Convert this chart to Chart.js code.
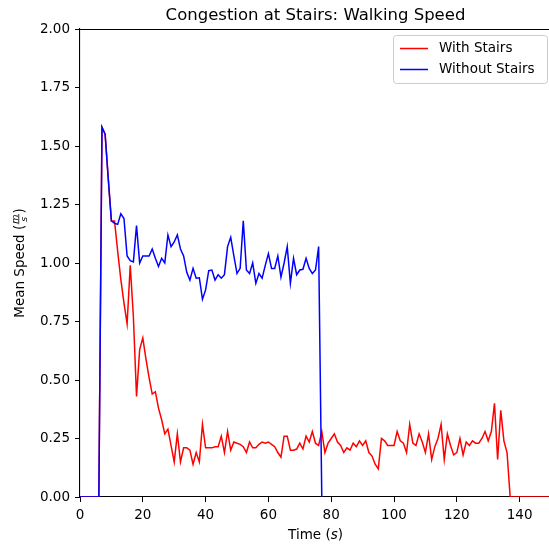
<!DOCTYPE html>
<html lang="en">
<head>
  <meta charset="UTF-8" />
  <title>Congestion at Stairs: Walking Speed</title>
  <script src="https://cdn.jsdelivr.net/npm/chart.js"></script>
  <style>
    html, body { margin: 0; padding: 0; background: #fff; overflow: hidden; }
    #wrap { position: relative; width: 551px; height: 548px; }
  </style>
</head>
<body>
  <div id="wrap"><canvas id="speedChart"></canvas></div>

  <script>
    // mean walking speed per second of simulation time (m/s)
    const withStairs = [
      0, 0, 0, 0, 0, 0, 0, 1.58, 1.55, 1.36,
      1.18, 1.18, 1.05, 0.93, 0.83, 0.74, 0.99, 0.77, 0.43, 0.63,
      0.68, 0.59, 0.51, 0.44, 0.45, 0.38, 0.33, 0.27, 0.29, 0.22,
      0.15, 0.27, 0.15, 0.21, 0.21, 0.20, 0.14, 0.19, 0.15, 0.31,
      0.21, 0.21, 0.21, 0.215, 0.215, 0.26, 0.19, 0.28, 0.20, 0.235,
      0.23, 0.225, 0.215, 0.19, 0.235, 0.21, 0.21, 0.225, 0.235, 0.23,
      0.235, 0.225, 0.215, 0.19, 0.17, 0.26, 0.26, 0.20, 0.20, 0.205,
      0.23, 0.205, 0.26, 0.235, 0.28, 0.23, 0.22, 0.28, 0.19, 0.23,
      0.25, 0.27, 0.235, 0.22, 0.19, 0.21, 0.20, 0.23, 0.215, 0.24,
      0.22, 0.24, 0.19, 0.175, 0.14, 0.12, 0.25, 0.24, 0.22, 0.22,
      0.22, 0.28, 0.24, 0.23, 0.19, 0.31, 0.23, 0.22, 0.27, 0.235,
      0.19, 0.27, 0.16, 0.215, 0.25, 0.31, 0.16, 0.27, 0.22, 0.18,
      0.19, 0.25, 0.18, 0.235, 0.22, 0.24, 0.23, 0.23, 0.25, 0.28,
      0.24, 0.28, 0.40, 0.16, 0.37, 0.24, 0.19, 0, 0, 0,
      0, 0, 0, 0, 0, 0, 0, 0, 0, 0,
      0
    ];
    const withoutStairs = [
      0, 0, 0, 0, 0, 0, 0, 1.58, 1.55, 1.36,
      1.18, 1.17, 1.165, 1.21, 1.19, 1.03, 1.01, 1.005, 1.16, 1.0,
      1.03, 1.03, 1.03, 1.06, 1.02, 0.985, 1.02, 1.0, 1.12, 1.07,
      1.09, 1.12, 1.06, 1.03, 0.96, 0.927, 0.977, 0.935, 0.937, 0.845,
      0.885, 0.967, 0.97, 0.927, 0.95, 0.935, 0.95, 1.07, 1.11, 1.03,
      0.955, 0.977, 1.18, 0.97, 0.955, 1.0, 0.913, 0.955, 0.935, 0.99,
      1.04, 0.977, 0.977, 1.03, 0.94, 1.0, 1.07, 0.913, 1.02, 0.95,
      0.97, 0.973, 1.02, 0.977, 0.955, 0.97, 1.07, 0
    ];
    const xTicks = [0, 20, 40, 60, 80, 100, 120, 140];
    const yTicks = [0, 0.25, 0.5, 0.75, 1.0, 1.25, 1.5, 1.75, 2.0];
    const seriesNames = ['With Stairs', 'Without Stairs'];
    const seriesColors = ['#ff0000', '#0000ff'];

    const FONT = '"DejaVu Sans", sans-serif';

    // one sample per second
    const toPoints = arr => arr.map((v, i) => ({ x: i, y: v }));

    // draws a run of [text, font] pieces starting at x
    function drawRun(ctx, parts, x, y) {
      parts.forEach(([txt, font]) => {
        ctx.font = font;
        ctx.fillText(txt, x, y);
        x += ctx.measureText(txt).width;
      });
    }
    function runWidth(ctx, parts) {
      return parts.reduce((w, [txt, font]) => {
        ctx.font = font;
        return w + ctx.measureText(txt).width;
      }, 0);
    }

    const decor = {
      id: 'decor',
      afterDraw(chart) {
        const { ctx, chartArea: a } = chart;
        ctx.save();

        // top / right spines
        ctx.strokeStyle = '#000';
        ctx.lineWidth = 1.1;
        ctx.beginPath();
        ctx.moveTo(a.left, a.top + 0.5);
        ctx.lineTo(a.right - 0.5, a.top + 0.5);
        ctx.lineTo(a.right - 0.5, a.bottom);
        ctx.stroke();

        ctx.fillStyle = '#000';
        ctx.textBaseline = 'alphabetic';
        const cx = (a.left + a.right) / 2;

        // title
        ctx.font = '16.5px ' + FONT;
        ctx.textAlign = 'center';
        ctx.fillText('Congestion at Stairs: Walking Speed', cx, 20);

        // x axis title: Time (s)
        ctx.textAlign = 'left';
        ctx.textBaseline = 'middle';
        const xParts = [['Time (', '13.5px ' + FONT], ['s', 'italic 13.5px ' + FONT], [')', '13.5px ' + FONT]];
        drawRun(ctx, xParts, cx - runWidth(ctx, xParts) / 2, 535);

        // y axis title: Mean Speed (m over s)
        ctx.save();
        ctx.translate(20, (a.top + a.bottom) / 2);
        ctx.rotate(-Math.PI / 2);
        const pre = [['Mean Speed (', '13.5px ' + FONT]];
        const post = [[')', '13.5px ' + FONT]];
        const fracFont = 'italic 9.5px ' + FONT;
        ctx.font = fracFont;
        const fw = Math.max(ctx.measureText('m').width, ctx.measureText('s').width) + 2;
        const total = runWidth(ctx, pre) + fw + runWidth(ctx, post);
        let x0 = -total / 2;
        drawRun(ctx, pre, x0, 0);
        x0 += runWidth(ctx, pre);
        ctx.font = fracFont;
        ctx.textAlign = 'center';
        ctx.textBaseline = 'alphabetic';
        ctx.fillText('m', x0 + fw / 2, -2.5);
        ctx.textBaseline = 'top';
        ctx.fillText('s', x0 + fw / 2, -0.5);
        ctx.fillRect(x0 + 0.5, -1.6, fw - 1, 0.8);
        ctx.textAlign = 'left';
        ctx.textBaseline = 'middle';
        drawRun(ctx, post, x0 + fw, 0);
        ctx.restore();

        // legend box
        const lx = 393, ly = 35, lw = 154, lh = 48;
        ctx.beginPath();
        ctx.roundRect(lx + 0.5, ly + 0.5, lw, lh, 3);
        ctx.fillStyle = 'rgba(255,255,255,0.8)';
        ctx.fill();
        ctx.strokeStyle = '#cccccc';
        ctx.lineWidth = 1;
        ctx.stroke();
        ctx.font = '13.5px ' + FONT;
        ctx.textBaseline = 'middle';
        seriesNames.forEach((name, i) => {
          const y = 48.5 + i * 21;
          ctx.strokeStyle = seriesColors[i];
          ctx.lineWidth = 1.5;
          ctx.beginPath();
          ctx.moveTo(400, y);
          ctx.lineTo(428, y);
          ctx.stroke();
          ctx.fillStyle = '#000';
          ctx.fillText(name, 439, y);
        });

        ctx.restore();
      }
    };

    const ctx = document.getElementById('speedChart').getContext('2d');
    new Chart(ctx, {
      type: 'line',
      data: {
        datasets: [
          {
            label: seriesNames[0],
            data: toPoints(withStairs),
            borderColor: seriesColors[0],
            borderWidth: 1.5,
            pointRadius: 0,
            tension: 0,
            order: 2
          },
          {
            label: seriesNames[1],
            data: toPoints(withoutStairs),
            borderColor: seriesColors[1],
            borderWidth: 1.5,
            pointRadius: 0,
            tension: 0,
            order: 1
          }
        ]
      },
      options: {
        responsive: true,
        maintainAspectRatio: false,
        animation: false,
        parsing: false,
        layout: { padding: { top: 29, left: 0, right: 0, bottom: 0 } },
        plugins: {
          legend: { display: false },
          title: { display: false },
          tooltip: { enabled: false }
        },
        scales: {
          x: {
            type: 'linear',
            min: 0,
            max: 150,
            afterBuildTicks: s => { s.ticks = xTicks.map(v => ({ value: v })); },
            afterFit: s => { s.height = 51; },
            grid: { drawOnChartArea: false, drawTicks: true, tickLength: 5, color: '#000', tickWidth: 1 },
            border: { display: true, color: '#000', width: 1.1 },
            ticks: {
              color: '#000',
              padding: 5,
              maxRotation: 0,
              font: { family: FONT, size: 13.5 },
              callback: v => String(v)
            }
          },
          y: {
            min: 0,
            max: 2,
            afterBuildTicks: s => { s.ticks = yTicks.map(v => ({ value: v })); },
            afterFit: s => { s.width = 80; },
            grid: { drawOnChartArea: false, drawTicks: true, tickLength: 5, color: '#000', tickWidth: 1 },
            border: { display: true, color: '#000', width: 1.1 },
            ticks: {
              color: '#000',
              padding: 5,
              font: { family: FONT, size: 13.5 },
              callback: v => v.toFixed(2)
            }
          }
        }
      },
      plugins: [decor]
    });
  </script>
</body>
</html>
